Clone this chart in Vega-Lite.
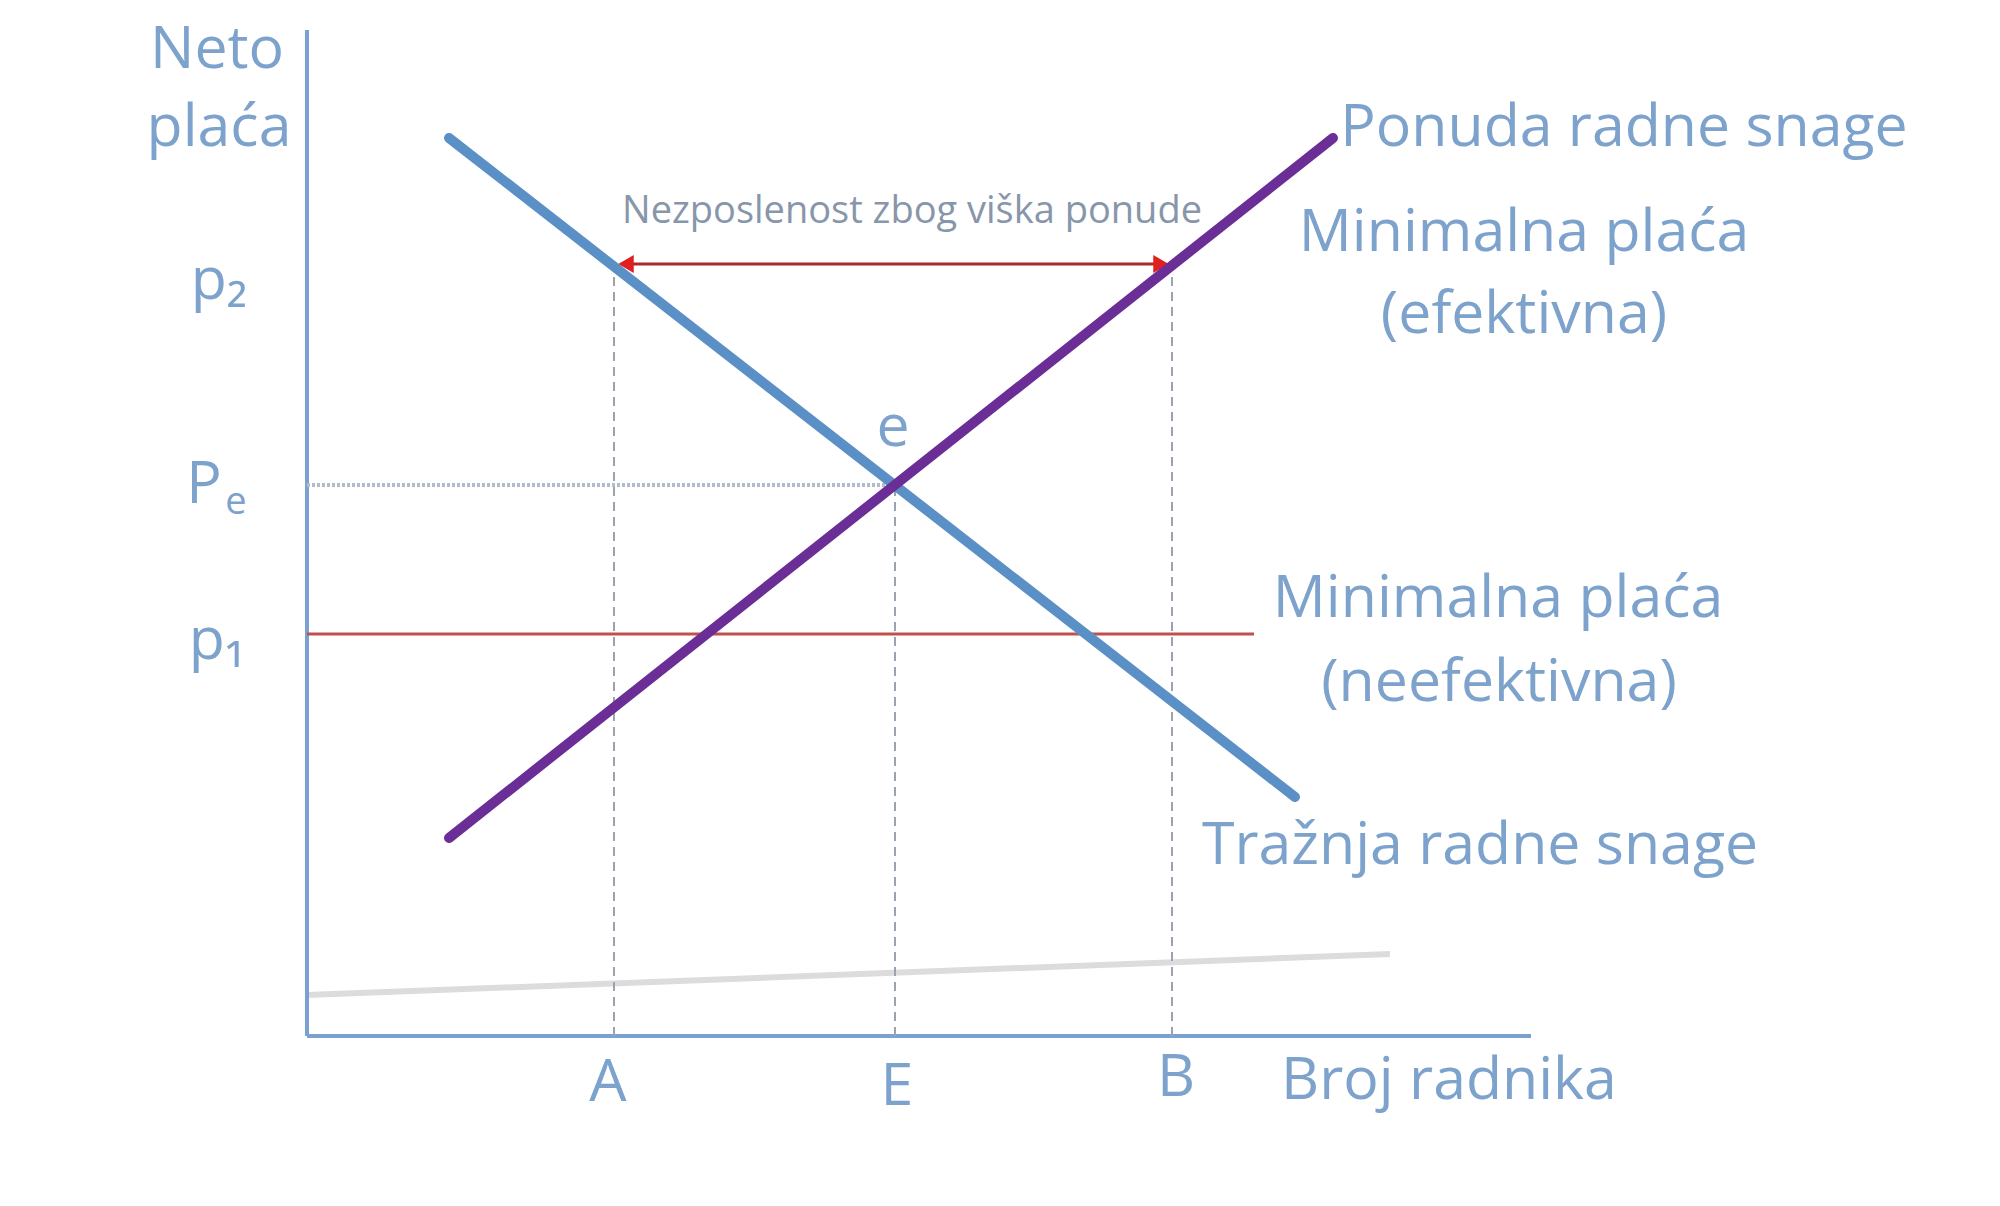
{
  "$schema": "https://vega.github.io/schema/vega-lite/v6.json",
  "width": 2000,
  "height": 1206,
  "autosize": {"type": "fit", "contains": "padding"},
  "padding": 0,
  "background": "white",
  "config": {"view": {"stroke": null}, "text": {"font": "Open Sans"}},
  "datasets": {
    "faint": [{"x": 0, "y": 4.1, "x2": 108.3, "y2": 8.2}],
    "axes": [
      {"x": 0, "y": 0, "x2": 0, "y2": 100.6},
      {"x": 0, "y": 0, "x2": 122.4, "y2": 0}
    ],
    "pe": [{"x": 0, "y": 55.1, "x2": 58.8, "y2": 55.1}],
    "verticals": [
      {"x": 30.7, "y": 0, "x2": 30.7, "y2": 77.2},
      {"x": 58.8, "y": 0, "x2": 58.8, "y2": 55.1},
      {"x": 86.5, "y": 0, "x2": 86.5, "y2": 77.2}
    ],
    "p1": [{"x": 0, "y": 40.2, "x2": 94.7, "y2": 40.2}],
    "arrow": [{"x": 31.5, "y": 77.2, "x2": 85.8, "y2": 77.2}],
    "heads": [
      {"x": 31.9, "y": 77.2, "shape": "triangle-left"},
      {"x": 85.4, "y": 77.2, "shape": "triangle-right"}
    ],
    "demand": [{"x": 14.2, "y": 89.8, "x2": 98.8, "y2": 23.9}],
    "supply": [{"x": 14.2, "y": 19.8, "x2": 102.6, "y2": 89.8}],
    "bigLabels": [
      {"label": "Neto", "x": -9.0, "y": 98.6},
      {"label": "plaća", "x": -8.8, "y": 90.8},
      {"label": "p₂", "x": -8.8, "y": 75.5},
      {"label": "P", "x": -10.3, "y": 55.1},
      {"label": "p₁", "x": -9.0, "y": 39.5},
      {"label": "e", "x": 58.6, "y": 60.8},
      {"label": "Ponuda radne snage", "x": 131.7, "y": 90.8},
      {"label": "Minimalna plaća", "x": 121.7, "y": 80.3},
      {"label": "(efektivna)", "x": 121.7, "y": 72.1},
      {"label": "Minimalna plaća", "x": 119.1, "y": 43.7},
      {"label": "(neefektivna)", "x": 119.2, "y": 35.3},
      {"label": "Tražnja radne snage", "x": 117.3, "y": 19.0},
      {"label": "A", "x": 30.1, "y": -4.7},
      {"label": "E", "x": 59.0, "y": -5.1},
      {"label": "B", "x": 86.9, "y": -4.2},
      {"label": "Broj radnika", "x": 114.2, "y": -4.5}
    ],
    "subLabels": [
      {"label": "e", "x": -7.1, "y": 53.3}
    ],
    "smallLabels": [
      {"label": "Nezposlenost zbog viška ponude", "x": 60.5, "y": 82.4}
    ]
  },
  "encoding": {
    "x": {"field": "x", "type": "quantitative", "scale": {"domain": [-30.7, 169.3], "nice": false, "zero": false}, "axis": null},
    "y": {"field": "y", "type": "quantitative", "scale": {"domain": [-17.0, 103.6], "nice": false, "zero": false}, "axis": null}
  },
  "layer": [
    {
      "data": {"name": "faint"},
      "mark": {"type": "rule", "color": "#dcdcdc", "strokeWidth": 6},
      "encoding": {"x2": {"field": "x2"}, "y2": {"field": "y2"}}
    },
    {
      "data": {"name": "axes"},
      "mark": {"type": "rule", "color": "#7aa1cf", "strokeWidth": 4},
      "encoding": {"x2": {"field": "x2"}, "y2": {"field": "y2"}}
    },
    {
      "data": {"name": "pe"},
      "mark": {"type": "rule", "color": "#aebccc", "strokeWidth": 4, "strokeDash": [3, 2]},
      "encoding": {"x2": {"field": "x2"}, "y2": {"field": "y2"}}
    },
    {
      "data": {"name": "verticals"},
      "mark": {"type": "rule", "color": "#9aa4b0", "strokeWidth": 2, "strokeDash": [9, 6]},
      "encoding": {"x2": {"field": "x2"}, "y2": {"field": "y2"}}
    },
    {
      "data": {"name": "p1"},
      "mark": {"type": "rule", "color": "#c0504d", "strokeWidth": 3},
      "encoding": {"x2": {"field": "x2"}, "y2": {"field": "y2"}}
    },
    {
      "data": {"name": "arrow"},
      "mark": {"type": "rule", "color": "#a92a2a", "strokeWidth": 3},
      "encoding": {"x2": {"field": "x2"}, "y2": {"field": "y2"}}
    },
    {
      "data": {"name": "heads"},
      "mark": {"type": "point", "filled": true, "color": "#e0201e", "size": 320, "opacity": 1},
      "encoding": {"shape": {"field": "shape", "type": "nominal", "scale": null}}
    },
    {
      "data": {"name": "demand"},
      "mark": {"type": "rule", "color": "#5b90c6", "strokeWidth": 10, "strokeCap": "round"},
      "encoding": {"x2": {"field": "x2"}, "y2": {"field": "y2"}}
    },
    {
      "data": {"name": "supply"},
      "mark": {"type": "rule", "color": "#6a2e96", "strokeWidth": 10, "strokeCap": "round"},
      "encoding": {"x2": {"field": "x2"}, "y2": {"field": "y2"}}
    },
    {
      "data": {"name": "bigLabels"},
      "mark": {"type": "text", "fontSize": 59, "color": "#7da2cc", "baseline": "middle", "align": "center"},
      "encoding": {"text": {"field": "label"}}
    },
    {
      "data": {"name": "subLabels"},
      "mark": {"type": "text", "fontSize": 38, "color": "#7da2cc", "baseline": "middle", "align": "center"},
      "encoding": {"text": {"field": "label"}}
    },
    {
      "data": {"name": "smallLabels"},
      "mark": {"type": "text", "fontSize": 38, "color": "#8796aa", "baseline": "middle", "align": "center"},
      "encoding": {"text": {"field": "label"}}
    }
  ]
}
